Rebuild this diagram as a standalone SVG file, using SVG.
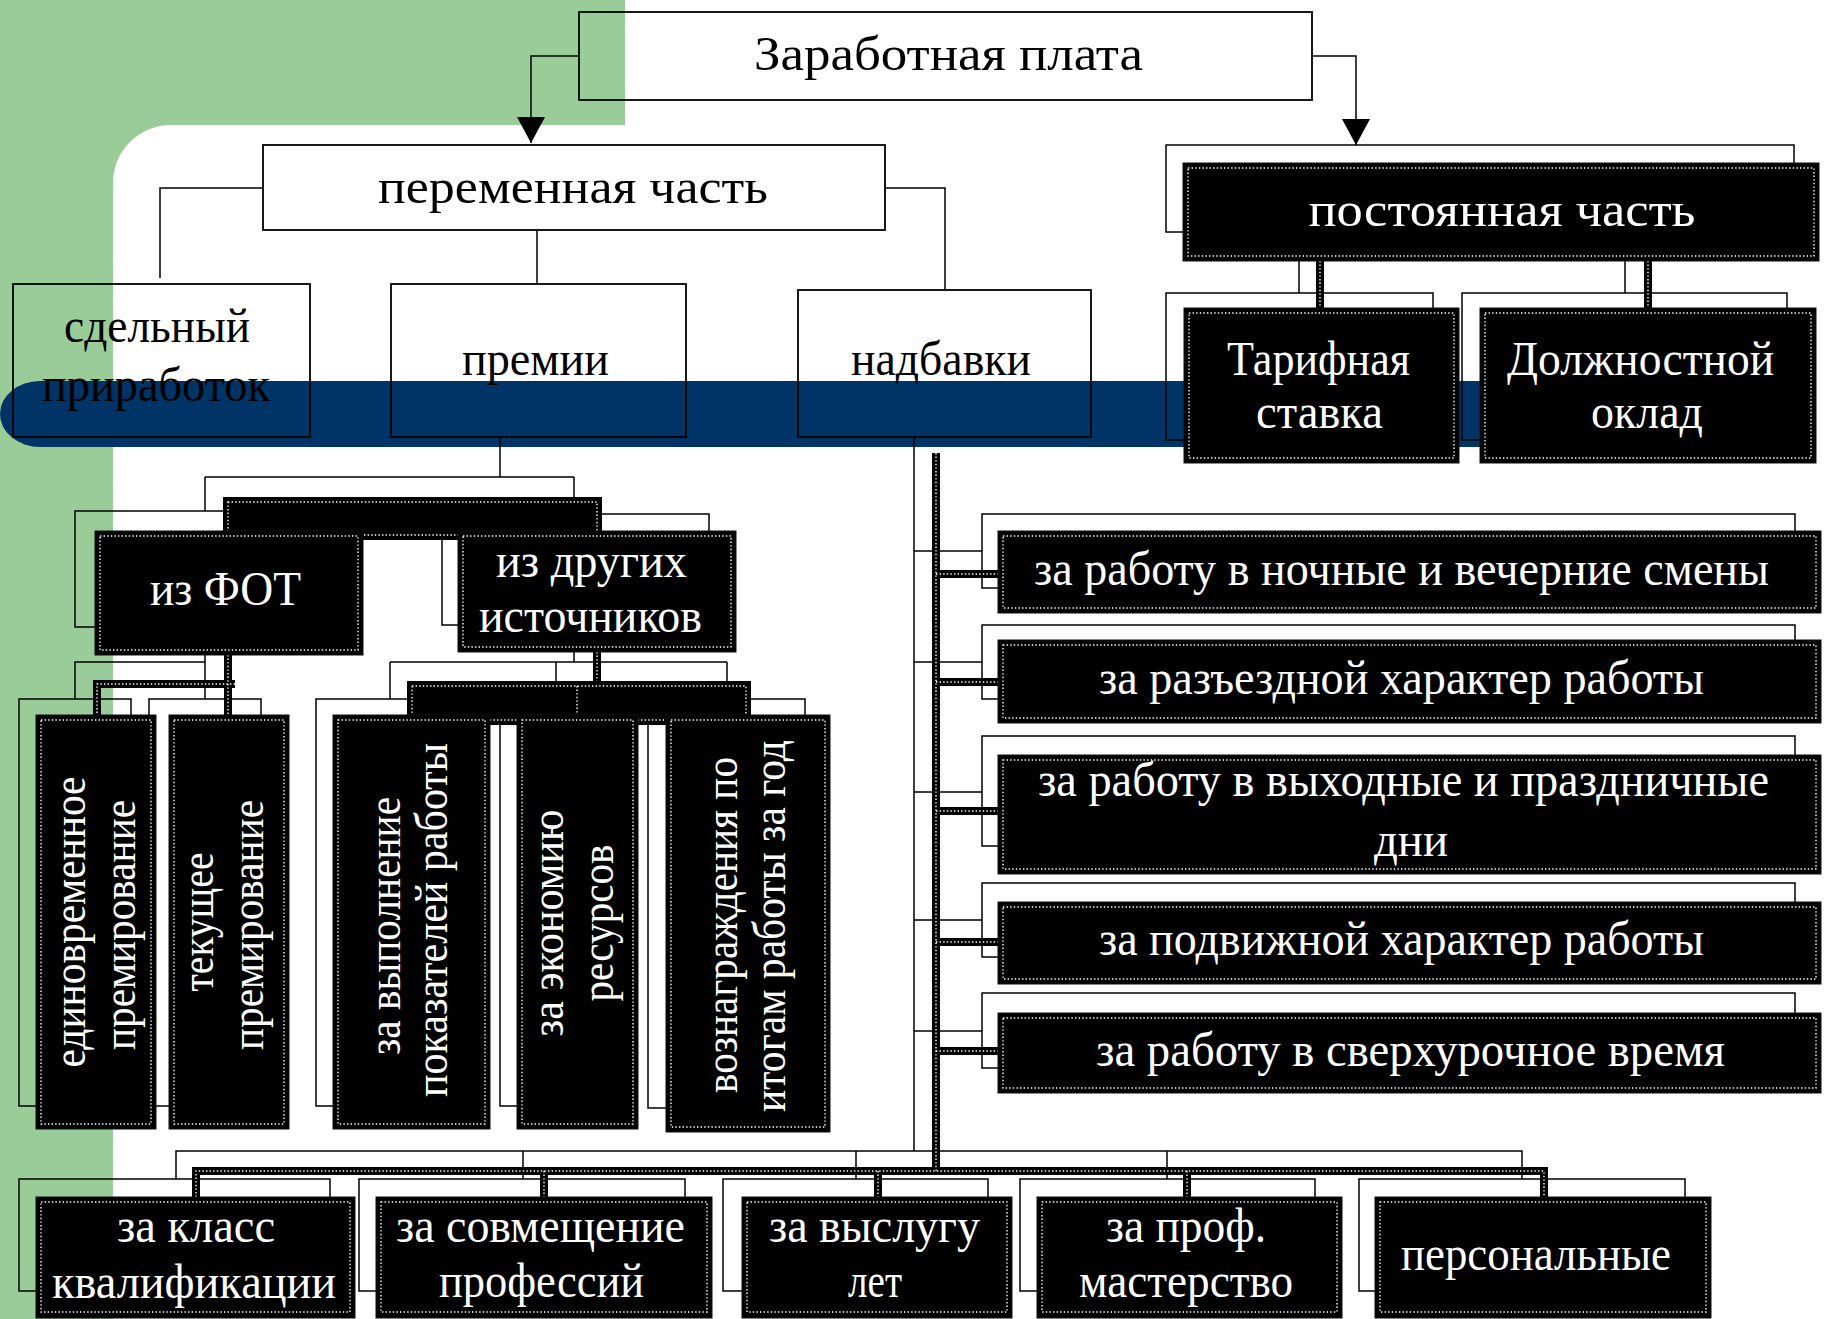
<svg xmlns="http://www.w3.org/2000/svg" width="1825" height="1319" viewBox="0 0 1825 1319">
<defs>
<style>
.frame{fill:none;stroke:#000;stroke-width:1.5}
.wbox{fill:none;stroke:#000;stroke-width:1.8}
.dbox{fill:#000;stroke:#111;stroke-width:1}
.dots{fill:none;stroke:#fff;stroke-width:1.4;stroke-dasharray:1.4 2.2}
.thin{fill:none;stroke:#000;stroke-width:1.5}
.thick{fill:none;stroke:#000;stroke-width:8}
.tdots{fill:none;stroke:#fff;stroke-width:1.4;stroke-dasharray:1.4 2.2}
text{font-family:"Liberation Serif","Times New Roman",serif}
.bt{fill:#000;text-anchor:middle;font-size:48px}
.wt{fill:#fff;text-anchor:middle;font-size:48px}
.vt{fill:#fff;text-anchor:middle;font-size:46px}
</style>
<marker id="arr" markerUnits="userSpaceOnUse" markerWidth="26" markerHeight="28" viewBox="0 0 26 28" refX="26" refY="14" orient="auto">
<path d="M0,0 L26,14 L0,28 Z" fill="#000"/>
</marker>
</defs>

<rect x="0" y="0" width="1825" height="1319" fill="#fff"/>
<path d="M0,0 H625 V125 H171 A58,58 0 0 0 113,183 V1319 H0 Z" fill="#99CC99"/>
<path d="M40,381 H1600 V447 H40 A40,33 0 0 1 0,414 A40,33 0 0 1 40,381 Z" fill="#003366"/>

<g id="frames">
<rect class="frame" x="1166" y="145" width="628" height="87"/>
<rect class="frame" x="1166" y="293" width="267" height="147"/>
<rect class="frame" x="1462" y="293" width="325" height="147"/>
<rect class="frame" x="75" y="511" width="262" height="116"/>
<rect class="frame" x="442" y="514" width="267" height="111"/>
<rect class="frame" x="19" y="699" width="112" height="407"/>
<rect class="frame" x="149" y="699" width="112" height="407"/>
<rect class="frame" x="316" y="699" width="149" height="407"/>
<rect class="frame" x="500" y="699" width="112" height="407"/>
<rect class="frame" x="648" y="699" width="157" height="409"/>
<rect class="frame" x="982" y="514" width="813" height="74"/>
<rect class="frame" x="982" y="625" width="813" height="74"/>
<rect class="frame" x="982" y="736" width="813" height="110"/>
<rect class="frame" x="982" y="883" width="813" height="74"/>
<rect class="frame" x="982" y="993" width="813" height="75"/>
<rect class="frame" x="19" y="1179" width="311" height="112"/>
<rect class="frame" x="359" y="1179" width="326" height="112"/>
<rect class="frame" x="723" y="1179" width="265" height="112"/>
<rect class="frame" x="1020" y="1179" width="295" height="112"/>
<rect class="frame" x="1359" y="1179" width="326" height="112"/>
</g>

<g id="connectors">
<path class="thin" d="M579,56 H531 V143" marker-end="url(#arr)"/>
<path class="thin" d="M1312,56 H1356 V145" marker-end="url(#arr)"/>
<path class="thin" d="M263,188 H160 V278"/>
<path class="thin" d="M537,230 V284"/>
<path class="thin" d="M885,188 H945 V290"/>
<path class="thin" d="M500,437 V477 M205,477 H574 M205,477 V511 M574,477 V514"/>
<path class="thin" d="M1299,232 V293 M1625,232 V293"/>
<path class="thin" d="M205,627 V699 M205,662 H75 V699"/>
<path class="thin" d="M574,625 V662 M390,662 H727 M390,662 V699 M556,662 V699 M727,662 V699"/>
<path class="thin" d="M914,437 V1151 M914,551 H982 M914,662 H982 M914,792 H982 M914,920 H982 M914,1031 H982"/>
<path class="thin" d="M176,1179 V1151 H1522 V1179 M523,1151 V1179 M856,1151 V1179 M1167,1151 V1179"/>

<rect x="223" y="497" width="379" height="43" fill="#000"/>
<rect class="dots" x="228" y="502" width="369" height="33"/>
<rect x="407" y="681" width="344" height="44" fill="#000"/>
<rect class="dots" x="412" y="686" width="334" height="34"/>
<path class="tdots" d="M577,686 V720"/>

<path class="thick" d="M1320,261 V308 M1648,261 V308 M228,655 V715 M235,684 H97 V715 M597,652 V681"/>
<path class="tdots" d="M1320,261 V308 M1648,261 V308 M228,655 V715 M235,684 H97 V715 M597,652 V681"/>
<path class="thick" d="M936,453 V1171 M936,574 H998 M936,682 H998 M936,811 H998 M936,942 H998 M936,1051 H998 M196,1197 V1171 H1544 V1197 M544,1171 V1197 M878,1171 V1197 M1187,1171 V1197"/>
<path class="tdots" d="M936,453 V1171 M936,574 H998 M936,682 H998 M936,811 H998 M936,942 H998 M936,1051 H998 M196,1197 V1171 H1544 V1197 M544,1171 V1197 M878,1171 V1197 M1187,1171 V1197"/>
</g>

<g id="n-zarplata">
<rect class="wbox" x="579" y="12" width="733" height="88"/>
<text class="bt" x="948.5" y="70" font-size="52" textLength="389" lengthAdjust="spacingAndGlyphs">Заработная плата</text>
</g>
<g id="n-peremennaya">
<rect class="wbox" x="263" y="145" width="622" height="85"/>
<text class="bt" x="573" y="203" textLength="390" lengthAdjust="spacingAndGlyphs">переменная часть</text>
</g>
<g id="n-sdelny">
<rect class="wbox" x="13" y="284" width="297" height="153"/>
<text class="bt" x="157" y="342" textLength="186" lengthAdjust="spacingAndGlyphs">сдельный</text>
<text class="bt" x="156" y="401" textLength="228" lengthAdjust="spacingAndGlyphs">приработок</text>
</g>
<g id="n-premii">
<rect class="wbox" x="391" y="284" width="295" height="153"/>
<text class="bt" x="535.5" y="375" textLength="147" lengthAdjust="spacingAndGlyphs">премии</text>
</g>
<g id="n-nadbavki">
<rect class="wbox" x="798" y="290" width="293" height="147"/>
<text class="bt" x="941" y="375" textLength="180" lengthAdjust="spacingAndGlyphs">надбавки</text>
</g>

<g id="n-postoyannaya">
<rect class="dbox" x="1183" y="163" width="636" height="98"/>
<rect class="dots" x="1188" y="168" width="626" height="88"/>
<text class="wt" x="1502" y="226" textLength="387" lengthAdjust="spacingAndGlyphs">постоянная часть</text>
</g>
<g id="n-tarif">
<rect class="dbox" x="1184" y="308" width="275" height="155"/>
<rect class="dots" x="1189" y="313" width="265" height="145"/>
<text class="wt" x="1318.5" y="375" textLength="183" lengthAdjust="spacingAndGlyphs">Тарифная</text>
<text class="wt" x="1319.5" y="428" textLength="127" lengthAdjust="spacingAndGlyphs">ставка</text>
</g>
<g id="n-oklad">
<rect class="dbox" x="1480" y="308" width="336" height="155"/>
<rect class="dots" x="1485" y="313" width="326" height="145"/>
<text class="wt" x="1640.5" y="375" textLength="267" lengthAdjust="spacingAndGlyphs">Должностной</text>
<text class="wt" x="1647" y="428" textLength="112" lengthAdjust="spacingAndGlyphs">оклад</text>
</g>
<g id="n-fot">
<rect class="dbox" x="95" y="531" width="268" height="124"/>
<rect class="dots" x="100" y="536" width="258" height="114"/>
<text class="wt" x="225.5" y="605" textLength="151" lengthAdjust="spacingAndGlyphs">из ФОТ</text>
</g>
<g id="n-drugih">
<rect class="dbox" x="458" y="531" width="278" height="121"/>
<rect class="dots" x="463" y="536" width="268" height="111"/>
<text class="wt" x="591.5" y="577" textLength="191" lengthAdjust="spacingAndGlyphs">из других</text>
<text class="wt" x="590.5" y="632" textLength="223" lengthAdjust="spacingAndGlyphs">источников</text>
</g>

<g id="n-edinovr">
<rect class="dbox" x="36" y="715" width="120" height="414"/>
<rect class="dots" x="41" y="720" width="110" height="404"/>
<text class="vt" transform="translate(85,922) rotate(-90)" textLength="291" lengthAdjust="spacingAndGlyphs">единовременное</text>
<text class="vt" transform="translate(135,925) rotate(-90)" textLength="250" lengthAdjust="spacingAndGlyphs">премирование</text>
</g>
<g id="n-tekushee">
<rect class="dbox" x="169" y="715" width="120" height="414"/>
<rect class="dots" x="174" y="720" width="110" height="404"/>
<text class="vt" transform="translate(213,922) rotate(-90)" textLength="139" lengthAdjust="spacingAndGlyphs">текущее</text>
<text class="vt" transform="translate(263,925) rotate(-90)" textLength="250" lengthAdjust="spacingAndGlyphs">премирование</text>
</g>
<g id="n-vypolnenie">
<rect class="dbox" x="333" y="715" width="157" height="414"/>
<rect class="dots" x="338" y="720" width="147" height="404"/>
<text class="vt" transform="translate(400,926) rotate(-90)" textLength="258" lengthAdjust="spacingAndGlyphs">за выполнение</text>
<text class="vt" transform="translate(447,920) rotate(-90)" textLength="354" lengthAdjust="spacingAndGlyphs">показателей работы</text>
</g>
<g id="n-ekonomiya">
<rect class="dbox" x="517" y="715" width="121" height="414"/>
<rect class="dots" x="522" y="720" width="111" height="404"/>
<text class="vt" transform="translate(563,923) rotate(-90)" textLength="227" lengthAdjust="spacingAndGlyphs">за экономию</text>
<text class="vt" transform="translate(613,923) rotate(-90)" textLength="157" lengthAdjust="spacingAndGlyphs">ресурсов</text>
</g>
<g id="n-voznagr">
<rect class="dbox" x="666" y="715" width="164" height="417"/>
<rect class="dots" x="671" y="720" width="154" height="407"/>
<text class="vt" transform="translate(737,925) rotate(-90)" textLength="336" lengthAdjust="spacingAndGlyphs">вознаграждения по</text>
<text class="vt" transform="translate(785,926) rotate(-90)" textLength="372" lengthAdjust="spacingAndGlyphs">итогам работы за год</text>
</g>

<g id="n-nochnye">
<rect class="dbox" x="998" y="531" width="823" height="82"/>
<rect class="dots" x="1003" y="536" width="813" height="72"/>
<text class="wt" x="1401.5" y="585" textLength="735" lengthAdjust="spacingAndGlyphs">за работу в ночные и вечерние смены</text>
</g>
<g id="n-razezdnoy">
<rect class="dbox" x="998" y="640" width="823" height="83"/>
<rect class="dots" x="1003" y="645" width="813" height="73"/>
<text class="wt" x="1401.5" y="694" textLength="605" lengthAdjust="spacingAndGlyphs">за разъездной характер работы</text>
</g>
<g id="n-vyhodnye">
<rect class="dbox" x="998" y="755" width="823" height="119"/>
<rect class="dots" x="1003" y="760" width="813" height="109"/>
<text class="wt" x="1403.5" y="796" textLength="731" lengthAdjust="spacingAndGlyphs">за работу в выходные и праздничные</text>
<text class="wt" x="1411" y="856" textLength="74" lengthAdjust="spacingAndGlyphs">дни</text>
</g>
<g id="n-podvizhnoy">
<rect class="dbox" x="998" y="902" width="823" height="82"/>
<rect class="dots" x="1003" y="907" width="813" height="72"/>
<text class="wt" x="1401.5" y="955" textLength="605" lengthAdjust="spacingAndGlyphs">за подвижной характер работы</text>
</g>
<g id="n-sverhurochnoe">
<rect class="dbox" x="998" y="1013" width="823" height="80"/>
<rect class="dots" x="1003" y="1018" width="813" height="70"/>
<text class="wt" x="1410.5" y="1066" textLength="629" lengthAdjust="spacingAndGlyphs">за работу в сверхурочное время</text>
</g>

<g id="n-klass">
<rect class="dbox" x="36" y="1197" width="319" height="121"/>
<rect class="dots" x="41" y="1202" width="309" height="110"/>
<text class="wt" x="196" y="1242" textLength="158" lengthAdjust="spacingAndGlyphs">за класс</text>
<text class="wt" x="194" y="1298" textLength="284" lengthAdjust="spacingAndGlyphs">квалификации</text>
</g>
<g id="n-sovmeshenie">
<rect class="dbox" x="376" y="1197" width="336" height="121"/>
<rect class="dots" x="381" y="1202" width="326" height="110"/>
<text class="wt" x="540.5" y="1242" textLength="289" lengthAdjust="spacingAndGlyphs">за совмещение</text>
<text class="wt" x="541.5" y="1297" textLength="205" lengthAdjust="spacingAndGlyphs">профессий</text>
</g>
<g id="n-vysluga">
<rect class="dbox" x="742" y="1197" width="270" height="121"/>
<rect class="dots" x="747" y="1202" width="260" height="110"/>
<text class="wt" x="874.5" y="1242" textLength="211" lengthAdjust="spacingAndGlyphs">за выслугу</text>
<text class="wt" x="875" y="1297" textLength="54" lengthAdjust="spacingAndGlyphs">лет</text>
</g>
<g id="n-masterstvo">
<rect class="dbox" x="1037" y="1197" width="305" height="121"/>
<rect class="dots" x="1042" y="1202" width="295" height="110"/>
<text class="wt" x="1186" y="1242" textLength="160" lengthAdjust="spacingAndGlyphs">за проф.</text>
<text class="wt" x="1186" y="1297" textLength="214" lengthAdjust="spacingAndGlyphs">мастерство</text>
</g>
<g id="n-personalnye">
<rect class="dbox" x="1375" y="1197" width="336" height="121"/>
<rect class="dots" x="1380" y="1202" width="326" height="110"/>
<text class="wt" x="1536" y="1270" textLength="270" lengthAdjust="spacingAndGlyphs">персональные</text>
</g>
</svg>
